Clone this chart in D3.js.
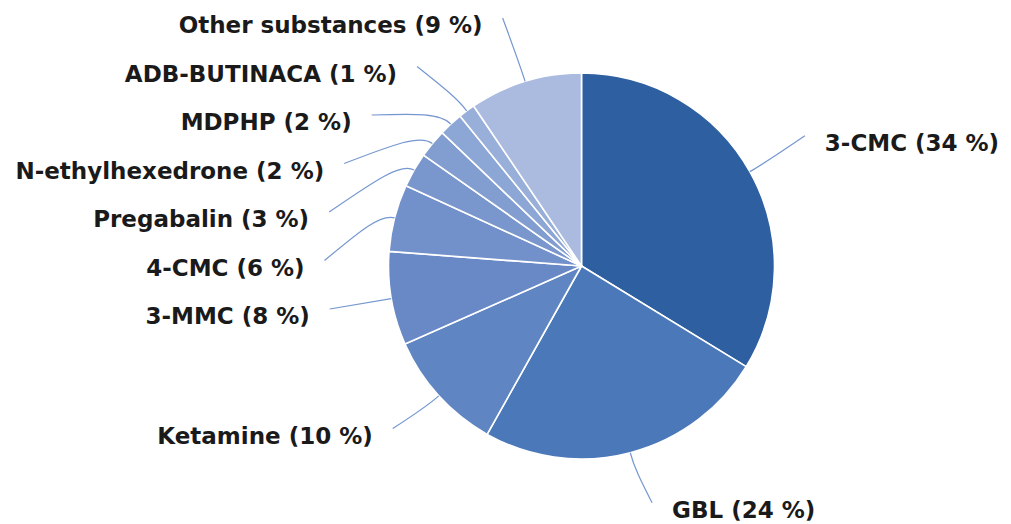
<!DOCTYPE html>
<html><head><meta charset="utf-8">
<script src="https://cdn.jsdelivr.net/npm/d3@7"></script>
<style>html,body{margin:0;padding:0;background:#fff;}svg{display:block}</style>
</head><body>
<svg id="chart" width="1011" height="524"></svg>
<script>
// Data (clockwise from 12 o'clock)
const substances = ["3-CMC", "GBL", "Ketamine", "3-MMC", "4-CMC", "Pregabalin", "N-ethylhexedrone", "MDPHP", "ADB-BUTINACA", "Other substances"];
const shares = [33.6, 24.3, 10.2, 7.8, 5.6, 2.9, 2.4, 2.0, 1.4, 9.4];
const sliceColors = ["#2e5fa1", "#4a78b9", "#5f86c3", "#6889c6", "#7290ca", "#7a97cd", "#829ed1", "#8ca6d5", "#98afd9", "#abbbe0"];

const W = 1011, H = 524;
const cx = 581.5, cy = 266, R = 193;
const svg = d3.select("#chart");
const g = svg.append("g").attr("transform", `translate(${cx},${cy})`);

const data = substances.map((name, i) => ({name, value: shares[i], color: sliceColors[i]}));
const pie = d3.pie().sort(null).value(d => d.value);
const arcs = pie(data);
const arc = d3.arc().innerRadius(0).outerRadius(R);

g.selectAll("path.slice").data(arcs).join("path")
  .attr("class", "slice")
  .attr("d", arc)
  .attr("fill", d => d.data.color)
  .attr("stroke", "#fff")
  .attr("stroke-width", 1.6)
  .attr("stroke-linejoin", "round");

// Label layout: ellipse around the pie, stacked per side
const ay = 252, ax = 277, by = 258, gap = 48.5;
const labels = arcs.map(a => {
  const mid = (a.startAngle + a.endAngle) / 2;
  return {a, mid, side: Math.sin(mid) >= 0 ? 1 : -1, y: -ay * Math.cos(mid)};
});
[1, -1].forEach(side => {
  const grp = labels.filter(l => l.side === side).sort((p, q) => p.y - q.y);
  for (let i = 1; i < grp.length; i++) grp[i].y = Math.max(grp[i].y, grp[i - 1].y + gap);
});
labels.forEach(l => {
  const t = Math.max(0, 1 - (l.y / by) ** 2);
  l.x = l.side * ax * Math.sqrt(t);
});

const fmt = v => Math.round(v);

// Leader lines
labels.forEach(l => {
  const ux = Math.sin(l.mid), uy = -Math.cos(l.mid);
  const p0 = [ux * R, uy * R];
  const p1 = [ux * (R + 15), uy * (R + 15)];
  const p3 = [l.x - l.side * 20, l.y - 7];
  const p2 = [p1[0] + (p3[0] - p1[0]) * 0.35, p1[1] + (p3[1] - p1[1]) * 0.35];
  const path = d3.path();
  path.moveTo(p0[0], p0[1]);
  path.bezierCurveTo(p1[0], p1[1], p2[0], p2[1], p3[0], p3[1]);
  g.append("path").attr("d", path.toString())
    .attr("fill", "none").attr("stroke", "#7597d0").attr("stroke-width", 1.2);
});

g.selectAll("text.lbl").data(labels).join("text")
  .attr("class", "lbl")
  .attr("x", d => d.x)
  .attr("y", d => d.y)
  .attr("dy", "0.36em")
  .attr("text-anchor", d => d.side > 0 ? "start" : "end")
  .attr("font-family", "'DejaVu Sans', Verdana, sans-serif")
  .attr("font-weight", "bold")
  .attr("font-size", 23)
  .attr("fill", "#1a1a1a")
  .text(d => `${d.a.data.name} (${fmt(d.a.data.value)} %)`);
</script>
</body></html>
